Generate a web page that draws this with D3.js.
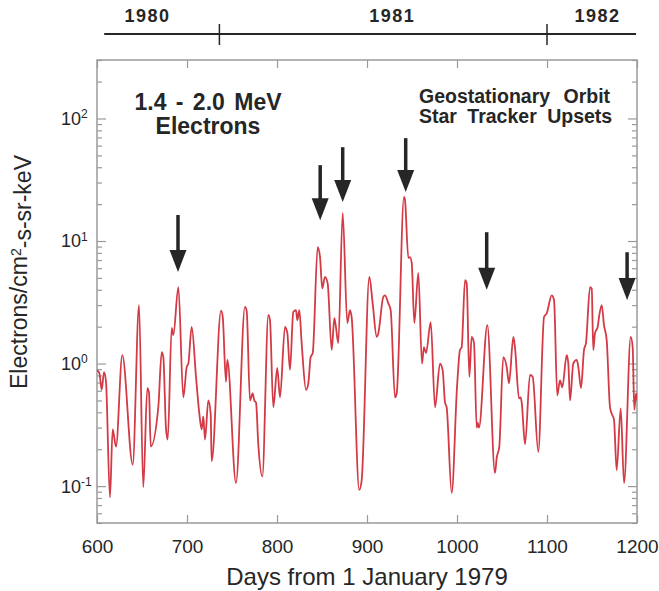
<!DOCTYPE html>
<html>
<head>
<meta charset="utf-8">
<script src="https://cdn.jsdelivr.net/npm/d3@7"></script>
<style>
  body { margin: 0; background: #fff; }
  text { font-family: "Liberation Sans", Arial, Helvetica, sans-serif; }
</style>
</head>
<body>
<svg id="chart" width="659" height="591"></svg>
<script>
// flux of 1.4 - 2.0 MeV electrons
var days = [600, 602.6, 605.2, 607.8, 610, 614.4, 617.4, 621.1, 628.1, 639.7,
  646.7, 651.4, 655.9, 657.8, 659.7, 668.1, 671.9, 673.7, 676.7, 678.6,
  683, 684.8, 690.4, 695.9, 699.7, 701.5, 705.2, 710, 713.7, 716.3,
  718.1, 720, 723.7, 726.3, 727.4, 737.8, 739.7, 743.3, 744.8, 754.4,
  764.4, 766.3, 770, 773, 774.8, 776.7, 779.2, 783.7, 790.4, 792.2,
  795.9, 800.3, 803.3, 808.9, 811.5, 814.4, 818.1, 821.1, 822.6, 824.8,
  827.4, 832.2, 834.8, 837.4, 839.7, 845.2, 847.8, 850.3, 853.3, 856.3,
  860.8, 863.7, 865.2, 868.1, 873, 878.1, 881.1, 882.9, 891.4, 894.1,
  902.6, 906.3, 910.8, 912.6, 918.1, 920, 923.7, 926.3, 931.1, 933,
  941.1, 942.2, 945.9, 947.8, 949.7, 952.6, 957, 961.1, 963.3, 965.6,
  970.8, 975.6, 981.1, 984.1, 986.7, 988.5, 994.1, 1000, 1003.3, 1005.2,
  1008.9, 1010.8, 1013.7, 1016.3, 1018.9, 1021.9, 1023, 1024.4, 1033.7, 1042.2,
  1044.1, 1047, 1051.4, 1055.2, 1057.8, 1062.6, 1064.4, 1068.9, 1070.8, 1071.9,
  1075.6, 1081.1, 1084.1, 1090.3, 1096.7, 1099.7, 1105.2, 1107.8, 1111.4, 1114.4,
  1117, 1121.9, 1123.7, 1125.6, 1129.2, 1133, 1134.8, 1137.8, 1141.1, 1143.3,
  1147.8, 1149.7, 1151.4, 1153.3, 1156.3, 1157.8, 1160.8, 1163.3, 1166.3, 1170,
  1171.9, 1174.4, 1177.4, 1181.9, 1185.6, 1193, 1195.2, 1197, 1198.9, 1200];

var flux = [0.88, 0.84, 0.61, 0.85, 0.71, 0.081, 0.29, 0.21, 1.17, 0.15,
  3.0, 0.098, 0.63, 0.58, 0.21, 0.44, 1.24, 1.13, 0.29, 0.24,
  1.95, 1.71, 4.2, 0.53, 0.94, 1.0, 1.99, 0.78, 0.39, 0.29,
  0.37, 0.24, 0.5, 0.39, 0.16, 2.7, 2.4, 0.71, 1.07, 0.106,
  2.9, 2.7, 0.5, 0.57, 0.5, 0.48, 0.22, 0.12, 2.5, 2.26,
  0.44, 0.92, 0.53, 1.99, 1.77, 0.89, 2.63, 2.73, 2.26, 2.73,
  1.47, 0.61, 0.69, 1.13, 1.22, 8.9, 7.4, 4.1, 5.1, 4.5,
  1.29, 2.35, 2.06, 1.47, 16.9, 2.14, 2.73, 2.4, 0.093, 0.112,
  5.1, 3.1, 1.65, 1.77, 3.5, 3.6, 3.1, 2.73, 0.53, 0.57,
  22.9, 21.7, 7.3, 7.4, 6.6, 2.14, 5.5, 1.0, 1.36, 1.22,
  2.18, 0.44, 1.0, 0.88, 0.48, 0.44, 0.088, 0.64, 1.29, 1.36,
  4.8, 4.5, 0.78, 1.65, 1.47, 0.3, 0.33, 0.3, 2.06, 0.128,
  0.17, 0.21, 1.13, 0.94, 0.69, 1.65, 1.36, 0.52, 0.53, 0.48,
  0.22, 0.81, 0.78, 0.19, 2.4, 2.57, 3.6, 3.3, 0.55, 0.73,
  0.64, 1.17, 1.0, 0.5, 1.0, 1.07, 0.94, 0.63, 1.29, 1.47,
  4.2, 4.1, 1.29, 1.77, 1.99, 2.4, 3.0, 2.06, 1.56, 0.44,
  0.39, 0.35, 0.135, 0.43, 0.106, 1.65, 1.36, 0.42, 0.57, 0.5];

var xTicks = [600, 700, 800, 900, 1000, 1100, 1200];
var yMajor = [0.1, 1, 10, 100];
var yExp = ["-1", "0", "1", "2"];

// star tracker upsets
var arrowDays = [690, 848, 873, 943, 1033, 1189];
var arrowTop  = [16.3, 41.6, 58.3, 69.1, 11.8, 8.1];
var arrowTip  = [5.6, 14.8, 20.8, 25.1, 4.0, 3.3];

// calendar bar on top (year boundaries as drawn in the figure)
var yearSpan = [608, 1199];
var yearBounds = [736, 1100];
var yearLabels = ["1980", "1981", "1982"];
var yearLabelDays = [656, 928, 1156];

var W = 659, H = 591;
var margin = {top: 60, right: 22, bottom: 68, left: 97};

var svg = d3.select("#chart");

var x = d3.scaleLinear().domain([600, 1200]).range([margin.left, W - margin.right]);
var y = d3.scaleLog().domain([0.05, 300]).range([H - margin.bottom, margin.top]);

var frameCol = "#9a9a9a";
var inkCol = "#262626";

// minor ticks from the log scale
var yMinor = y.ticks().filter(function (v) { return yMajor.indexOf(v) < 0; });

// left axis
var gl = svg.append("g").attr("transform", "translate(" + margin.left + ",0)");
gl.call(d3.axisLeft(y).tickValues(yMajor).tickSizeInner(-9).tickSizeOuter(0).tickFormat(""));
gl.append("g").call(d3.axisLeft(y).tickValues(yMinor).tickSizeInner(-5).tickSizeOuter(0).tickFormat(""));
// right axis
var gr = svg.append("g").attr("transform", "translate(" + (W - margin.right) + ",0)");
gr.call(d3.axisRight(y).tickValues(yMajor).tickSizeInner(-9).tickSizeOuter(0).tickFormat(""));
gr.append("g").call(d3.axisRight(y).tickValues(yMinor).tickSizeInner(-5).tickSizeOuter(0).tickFormat(""));
// bottom axis
var gb = svg.append("g").attr("transform", "translate(0," + (H - margin.bottom) + ")");
gb.call(d3.axisBottom(x).tickValues(xTicks).tickSizeInner(-8).tickSizeOuter(0)
  .tickPadding(17).tickFormat(d3.format("d")));
// top axis
var gt = svg.append("g").attr("transform", "translate(0," + margin.top + ")");
gt.call(d3.axisTop(x).tickValues(xTicks).tickSizeInner(-8).tickSizeOuter(0).tickFormat(""));

svg.selectAll(".domain").remove();
svg.selectAll(".tick line").attr("stroke", frameCol).attr("stroke-width", 1.2);
gb.selectAll(".tick text").attr("font-size", 19).attr("fill", inkCol)
  .style("font-family", "'Liberation Sans', Arial, sans-serif");

// frame
svg.append("rect")
  .attr("x", x(600)).attr("y", y(300))
  .attr("width", x(1200) - x(600)).attr("height", y(0.05) - y(300))
  .attr("fill", "none").attr("stroke", frameCol).attr("stroke-width", 1.5);

// y tick labels with exponents
var yl = svg.append("g").selectAll("text").data(yMajor).enter().append("text")
  .attr("x", 61).attr("y", function (d) { return y(d); })
  .attr("dy", "0.36em").attr("font-size", 18).attr("fill", inkCol)
  .text("10");
yl.append("tspan").attr("dy", "-0.55em").attr("font-size", 12)
  .text(function (d, i) { return yExp[i]; });

// data line
svg.append("clipPath").attr("id", "plotclip").append("rect")
  .attr("x", x(600)).attr("y", y(300))
  .attr("width", x(1200) - x(600)).attr("height", y(0.05) - y(300));

var pts = days.map(function (d, i) { return [d, flux[i]]; });
var line = d3.line()
  .x(function (d) { return x(d[0]); })
  .y(function (d) { return y(d[1]); })
  .curve(d3.curveMonotoneX);

svg.append("path").datum(pts)
  .attr("clip-path", "url(#plotclip)")
  .attr("d", line)
  .attr("fill", "none").attr("stroke", "#d33a45").attr("stroke-width", 1.8)
  .attr("stroke-linejoin", "round");

// arrows
var ag = svg.append("g").attr("fill", inkCol).attr("stroke", inkCol);
arrowDays.forEach(function (d, i) {
  var ax = x(d), yt = y(arrowTip[i]);
  ag.append("line")
    .attr("x1", ax).attr("x2", ax)
    .attr("y1", y(arrowTop[i])).attr("y2", yt - 16)
    .attr("stroke-width", 3.5);
  ag.append("path")
    .attr("d", "M" + (ax - 8.5) + "," + (yt - 22) + "L" + (ax + 8.5) + "," + (yt - 22) + "L" + ax + "," + yt + "Z")
    .attr("stroke", "none");
});

// annotations
var ann1 = svg.append("text").attr("text-anchor", "middle").attr("font-weight", "bold")
  .attr("font-size", 23).attr("fill", inkCol);
ann1.append("tspan").attr("x", 208).attr("y", 110).attr("word-spacing", 3).text("1.4 - 2.0 MeV");
ann1.append("tspan").attr("x", 208).attr("y", 134).text("Electrons");

var ann2 = svg.append("text").attr("font-weight", "bold")
  .attr("font-size", 19.5).attr("fill", inkCol);
ann2.append("tspan").attr("x", 419).attr("y", 103).attr("word-spacing", 8).text("Geostationary Orbit");
ann2.append("tspan").attr("x", 419).attr("y", 123).attr("word-spacing", 5).text("Star Tracker Upsets");

// axis titles
svg.append("text")
  .attr("x", x(900)).attr("y", 585)
  .attr("text-anchor", "middle").attr("font-size", 24).attr("fill", inkCol)
  .text("Days from 1 January 1979");

var ytl = svg.append("text")
  .attr("transform", "translate(27,272) rotate(-90)")
  .attr("text-anchor", "middle").attr("font-size", 23).attr("fill", inkCol);
ytl.append("tspan").text("Electrons/cm");
ytl.append("tspan").attr("dy", "-0.45em").attr("font-size", 14).text("2");
ytl.append("tspan").attr("dy", "0.45em").text("-s-sr-keV");

// calendar bar
var cal = svg.append("g");
cal.append("line")
  .attr("x1", x(yearSpan[0])).attr("x2", x(yearSpan[1]))
  .attr("y1", 34).attr("y2", 34)
  .attr("stroke", inkCol).attr("stroke-width", 2);
cal.selectAll(".yb").data(yearBounds).enter().append("line")
  .attr("x1", function (d) { return x(d); }).attr("x2", function (d) { return x(d); })
  .attr("y1", 24).attr("y2", 45)
  .attr("stroke", inkCol).attr("stroke-width", 1.5);
cal.selectAll(".yl").data(yearLabels).enter().append("text")
  .attr("x", function (d, i) { return x(yearLabelDays[i]); })
  .attr("y", 22)
  .attr("text-anchor", "middle").attr("font-weight", "bold").attr("font-size", 18)
  .attr("letter-spacing", 1.5).attr("fill", inkCol)
  .text(function (d) { return d; });
</script>
</body>
</html>
